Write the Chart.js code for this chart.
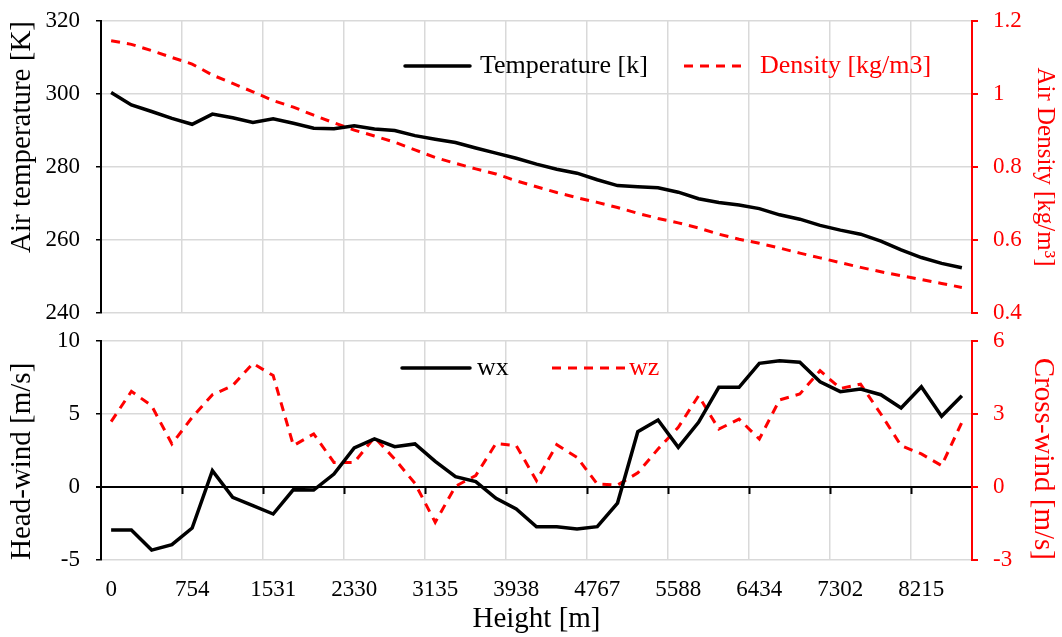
<!DOCTYPE html>
<html>
<head>
<meta charset="utf-8">
<title>Air temperature, density and wind vs height</title>
<script src="https://cdn.jsdelivr.net/npm/chart.js@4/dist/chart.umd.min.js"></script>
<style>
  body { margin: 0; background: #fff; }
  canvas { position: absolute; left: 0; }
  #topChart { top: 0; }
  #bottomChart { top: 325px; }
</style>
</head>
<body>
<canvas id="topChart" width="1062" height="325"></canvas>
<canvas id="bottomChart" width="1062" height="312"></canvas>
<script>
// HEIGHT LABELS (shown on every 4th sample)
const heightTicks = ["0", "754", "1531", "2330", "3135", "3938", "4767", "5588", "6434", "7302", "8215"];
const SAMPLE_COUNT = 43;

// TOP PANEL
const temperature = [
  300.4, 297.0, 295.2, 293.3, 291.7, 294.5, 293.5, 292.2, 293.2, 292.0,
  290.6, 290.5, 291.3, 290.4, 290.0, 288.6, 287.6, 286.7, 285.2, 283.8,
  282.4, 280.8, 279.4, 278.3, 276.5, 274.9, 274.6, 274.3, 273.1, 271.3,
  270.3, 269.6, 268.6, 266.9, 265.7, 264.0, 262.7, 261.6, 259.7, 257.3,
  255.2, 253.6, 252.4
];
const density = [
  1.146, 1.136, 1.119, 1.100, 1.082, 1.052, 1.029, 1.006, 0.982, 0.964,
  0.942, 0.921, 0.901, 0.885, 0.868, 0.847, 0.826, 0.810, 0.795, 0.781,
  0.762, 0.746, 0.730, 0.716, 0.703, 0.689, 0.673, 0.659, 0.647, 0.633,
  0.616, 0.602, 0.591, 0.578, 0.564, 0.551, 0.538, 0.525, 0.513, 0.502,
  0.492, 0.481, 0.470
];

// BOTTOM PANEL
const wx = [
  -2.95, -2.95, -4.32, -3.95, -2.81, 1.12, -0.71, -1.28, -1.85, -0.18,
  -0.21, 0.89, 2.67, 3.29, 2.76, 2.95, 1.76, 0.71, 0.37, -0.78,
  -1.51, -2.72, -2.72, -2.88, -2.72, -1.10, 3.79, 4.59, 2.72, 4.43,
  6.83, 6.83, 8.47, 8.65, 8.54, 7.21, 6.53, 6.71, 6.32, 5.41,
  6.87, 4.84, 6.25
];
const wz = [
  2.69, 3.93, 3.34, 1.77, 2.86, 3.79, 4.17, 5.08, 4.58, 1.70,
  2.18, 1.01, 1.01, 2.04, 1.15, 0.15, -1.45, 0.03, 0.47, 1.79,
  1.70, 0.26, 1.74, 1.22, 0.12, 0.08, 0.58, 1.56, 2.45, 3.75,
  2.38, 2.79, 1.97, 3.58, 3.82, 4.78, 4.05, 4.23, 3.00, 1.70,
  1.36, 0.88, 2.66
];

const categories = Array.from({ length: SAMPLE_COUNT }, (_, i) =>
  i % 4 === 0 ? heightTicks[i / 4] || "" : ""
);

const GRID = "#d9d9d9";
const RED = "#ff0000";

Chart.defaults.font.family = "'Liberation Serif', 'Times New Roman', serif";
Chart.defaults.font.size = 23;
Chart.defaults.color = "#000";

// vertical grid only on every 4th category boundary
const everyFourth = (color) => (ctx) =>
  ctx.index > 0 && ctx.index % 4 === 0 ? color : "transparent";

// keep tick labels from pushing the plot area in
function fixWidth(width) {
  return (scale) => {
    scale.width = width;
    scale.paddingTop = 0;
    scale.paddingBottom = 0;
  };
}

// LEGEND DRAWN INSIDE THE PLOT
const inlineLegend = {
  id: "inlineLegend",
  afterDatasetsDraw(chart, args, opts) {
    const ctx = chart.ctx;
    ctx.save();
    chart.data.datasets.forEach((ds, i) => {
      const slot = opts.slots[i];
      ctx.beginPath();
      ctx.setLineDash(ds.borderDash || []);
      ctx.lineWidth = ds.borderWidth;
      ctx.strokeStyle = ds.borderColor;
      ctx.lineCap = ds.borderDash ? "butt" : "round";
      ctx.moveTo(slot.x1, opts.y);
      ctx.lineTo(slot.x2, opts.y);
      ctx.stroke();
      ctx.setLineDash([]);
      ctx.fillStyle = ds.borderColor;
      ctx.font = opts.font;
      ctx.textBaseline = "middle";
      ctx.fillText(ds.label, slot.tx, opts.y);
    });
    ctx.restore();
  },
};

function leftAxis(min, max, step, title, align) {
  return {
    position: "left",
    min: min,
    max: max,
    ticks: { stepSize: step, padding: 16, color: "#000" },
    grid: {
      color: (ctx) => (ctx.tick && ctx.tick.value === 0 && min < 0 ? "#000" : GRID),
      lineWidth: (ctx) => (ctx.tick && ctx.tick.value === 0 && min < 0 ? 2 : 1.5),
      tickColor: "#000",
      tickLength: 5,
    },
    border: { color: "#000", width: 2 },
    title: {
      display: true,
      text: title,
      color: "#000",
      font: { size: 29 },
      align: align,
      padding: { top: 5, bottom: 0 },
    },
    afterFit: fixWidth(101),
  };
}

function rightAxis(min, max, step, title, align, titleSize) {
  return {
    position: "right",
    min: min,
    max: max,
    ticks: {
      stepSize: step,
      padding: 15,
      color: RED,
      callback: (v) => String(+Number(v).toFixed(2)),
    },
    grid: { drawOnChartArea: false, tickColor: RED, tickLength: 6, lineWidth: 2 },
    border: { color: RED, width: 2 },
    title: {
      display: true,
      text: title,
      color: RED,
      font: { size: titleSize },
      align: align,
      padding: { top: 2, bottom: 0 },
    },
    afterFit: fixWidth(90),
  };
}

// TOP CHART: TEMPERATURE + DENSITY
new Chart(document.getElementById("topChart"), {
  type: "line",
  data: {
    labels: categories,
    datasets: [
      {
        label: "Temperature [k]",
        data: temperature,
        yAxisID: "y",
        borderColor: "#000",
        borderWidth: 3.5,
        pointRadius: 0,
      },
      {
        label: "Density [kg/m3]",
        data: density,
        yAxisID: "y1",
        borderColor: RED,
        borderWidth: 3,
        borderDash: [9, 7],
        pointRadius: 0,
      },
    ],
  },
  options: {
    responsive: false,
    animation: false,
    layout: { padding: { top: 21, left: 0, right: 0, bottom: 0 } },
    plugins: {
      legend: { display: false },
      tooltip: { enabled: false },
      inlineLegend: {
        y: 66,
        font: "26px 'Liberation Serif', 'Times New Roman', serif",
        slots: [
          { x1: 405, x2: 470, tx: 480 },
          { x1: 684, x2: 742, tx: 760 },
        ],
      },
    },
    scales: {
      x: {
        offset: true,
        grid: { offset: true, color: everyFourth(GRID), lineWidth: 1.5, drawTicks: false },
        border: { display: false },
        ticks: { display: false, autoSkip: false },
        afterFit: (scale) => {
          scale.height = 12;
        },
      },
      y: leftAxis(240, 320, 20, "Air temperature [K]", "end"),
      y1: rightAxis(0.4, 1.2, 0.2, "Air Density [kg/m³]", "center", 25),
    },
  },
  plugins: [inlineLegend],
});

// BOTTOM CHART: HEAD-WIND + CROSS-WIND
new Chart(document.getElementById("bottomChart"), {
  type: "line",
  data: {
    labels: categories,
    datasets: [
      {
        label: "wx",
        data: wx,
        yAxisID: "y",
        borderColor: "#000",
        borderWidth: 3.5,
        pointRadius: 0,
      },
      {
        label: "wz",
        data: wz,
        yAxisID: "y1",
        borderColor: RED,
        borderWidth: 3,
        borderDash: [9, 7],
        pointRadius: 0,
      },
    ],
  },
  options: {
    responsive: false,
    animation: false,
    layout: { padding: { top: 16, left: 0, right: 0, bottom: 0 } },
    plugins: {
      legend: { display: false },
      tooltip: { enabled: false },
      inlineLegend: {
        y: 43,
        font: "26px 'Liberation Serif', 'Times New Roman', serif",
        slots: [
          { x1: 402, x2: 470, tx: 477 },
          { x1: 552, x2: 626, tx: 629 },
        ],
      },
    },
    scales: {
      x: {
        offset: true,
        grid: { offset: true, color: everyFourth(GRID), lineWidth: 1.5, drawTicks: false },
        border: { display: false },
        ticks: { autoSkip: false, maxRotation: 0, padding: 16, color: "#000" },
        title: {
          display: true,
          text: "Height [m]",
          color: "#000",
          font: { size: 29 },
          padding: { top: 0, bottom: 0 },
        },
        afterFit: (scale) => {
          scale.height = 77;
        },
      },
      // zero line with tick marks
      x0: {
        type: "category",
        axis: "x",
        position: { y: 0 },
        offset: true,
        grid: {
          offset: true,
          drawOnChartArea: false,
          drawTicks: true,
          tickLength: 6,
          tickWidth: 2,
          tickColor: everyFourth("#000"),
        },
        border: { color: "#000", width: 2 },
        ticks: { display: false, autoSkip: false },
      },
      y: leftAxis(-5, 10, 5, "Head-wind [m/s]", "start"),
      y1: rightAxis(-3, 6, 3, "Cross-wind [m/s]", "start", 29),
    },
  },
  plugins: [inlineLegend],
});
</script>
</body>
</html>
